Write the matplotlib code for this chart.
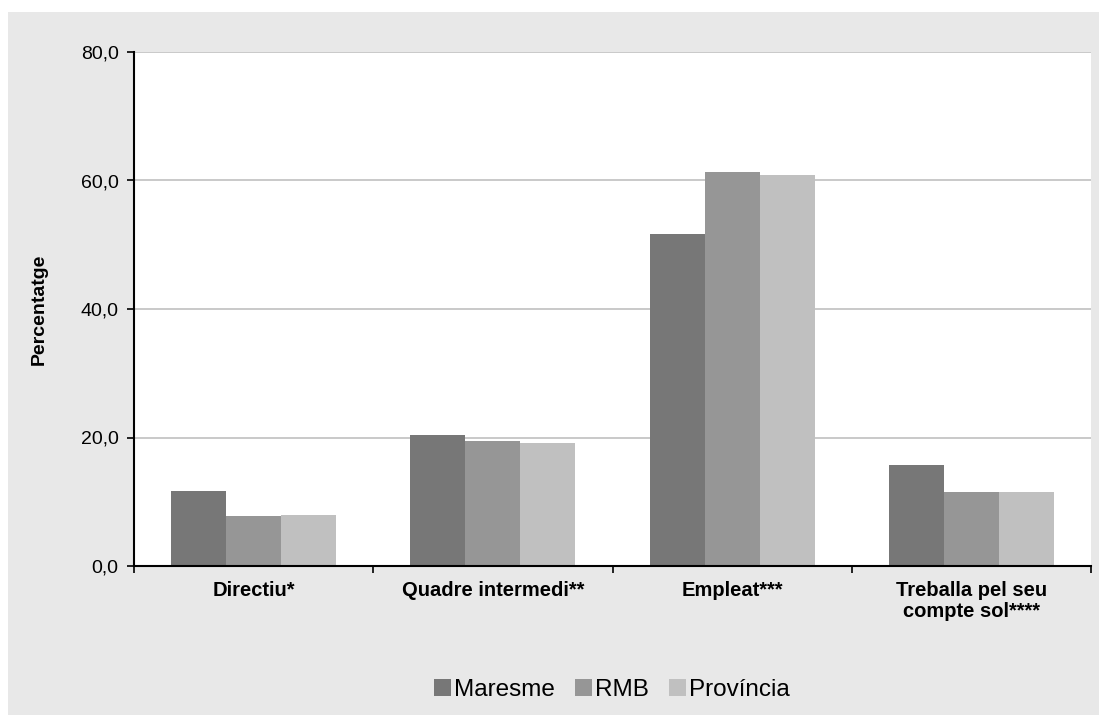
import numpy as np
import matplotlib.pyplot as plt
from matplotlib.patches import Rectangle

plt.rcParams['font.family'] = ['Liberation Sans', 'DejaVu Sans']

# data
categories = ['Directiu*', 'Quadre intermedi**', 'Empleat***', 'Treballa pel seu\ncompte sol****']
series = ['Maresme', 'RMB', 'Província']
maresme = [11.7, 20.4, 51.7, 15.7]
rmb = [7.8, 19.5, 61.3, 11.5]
provincia = [7.9, 19.1, 60.9, 11.5]
values = [maresme, rmb, provincia]
colors = ['#777777', '#969696', '#c0c0c0']

fig = plt.figure(figsize=(10.99, 7.15), dpi=100)
fig.patch.set_facecolor('white')
# grey panel behind the chart
fig.patches.append(Rectangle((8 / 1099, 0), 1, (715 - 12) / 715, transform=fig.transFigure,
                             facecolor='#e8e8e8', edgecolor='none', zorder=-1))

ax = fig.add_axes([134 / 1099, (715 - 566) / 715, (1091 - 134) / 1099, (566 - 52) / 715])
ax.set_facecolor('white')

x = np.arange(len(categories))
w = 0.23
for i, (name, vals) in enumerate(zip(series, values)):
    ax.bar(x + (i - 1) * w, vals, width=w, color=colors[i], label=name, zorder=2)

ax.set_xlim(-0.5, len(categories) - 0.5)
ax.set_ylim(0, 80)
ax.set_yticks([0, 20, 40, 60, 80])
ax.set_yticklabels(['0,0', '20,0', '40,0', '60,0', '80,0'], fontsize=14)
ax.yaxis.grid(True, color='#c0c0c0', linewidth=1.2, zorder=0)
ax.set_axisbelow(True)

ax.set_xticks(x)
ax.set_xticklabels(categories, fontsize=14.5, fontweight='bold', linespacing=1.1)
ax.tick_params(axis='x', length=0, pad=11)
ax.set_xticks(np.arange(-0.5, len(categories)), minor=True)
ax.tick_params(axis='x', which='minor', length=5, width=1.2, direction='out')
ax.tick_params(axis='y', length=5, width=1.2, direction='out', pad=6)

for s in ['top', 'right']:
    ax.spines[s].set_visible(False)
for s in ['left', 'bottom']:
    ax.spines[s].set_linewidth(1.5)

ax.set_ylabel('Percentatge', fontsize=14, fontweight='bold', labelpad=24)

ax.legend(loc='center', bbox_to_anchor=(612 / 1099, (715 - 690) / 715),
          bbox_transform=fig.transFigure, ncol=3, frameon=False, fontsize=17.5,
          handlelength=0.7, handleheight=0.7, handletextpad=0.15, columnspacing=0.8)

fig.savefig('out.png', dpi=100)
